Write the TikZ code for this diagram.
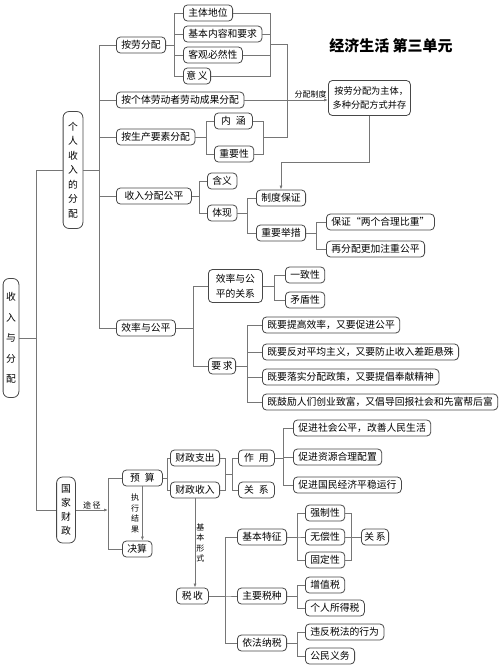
\documentclass[tikz,border=0pt]{standalone}
\usepackage{fontspec}
\setmainfont{Noto Sans CJK SC}
\usetikzlibrary{arrows.meta}
\definecolor{linegray}{HTML}{767676}
\definecolor{boxgray}{HTML}{474747}
\tikzset{
  box/.style={draw=boxgray, line width=0.8pt, rounded corners=4pt, anchor=west,
    minimum height=16, inner xsep=5pt, inner ysep=1pt, font=\fontsize{9.8}{12}\selectfont},
  vbox/.style={draw=boxgray, line width=0.8pt, rounded corners=6pt, align=center},
  link/.style={draw=linegray, line width=0.7pt},
  lbl/.style={font=\fontsize{8}{10.6}\selectfont, inner sep=1pt, align=center},
}
\begin{document}
\begin{tikzpicture}[x=1pt, y=-1pt, >={Latex[length=4pt,width=3pt]}]
\useasboundingbox (0,0) rectangle (500,667);

% title
\node[font=\fontsize{15}{17}\selectfont\bfseries] (title) at (391,46) {经济生活 第三单元};

% main branches
\node[vbox, inner xsep=3pt, minimum height=119, font=\fontsize{9.8}{20.5}\selectfont] (gen) at (11,338) {收\\入\\与\\分\\配};
\node[vbox, inner xsep=5pt, minimum height=117, font=\fontsize{9.8}{14.5}\selectfont] (geren) at (73,170) {个\\人\\收\\入\\的\\分\\配};
\node[vbox, inner xsep=4.5pt, minimum height=66, font=\fontsize{9.8}{14.3}\selectfont] (caizheng) at (66,510) {国\\家\\财\\政};

% personal income
\node[box] (anlao) at (116,45) {按劳分配};
\node[box] (zhuti) at (183,13) {主体地位};
\node[box] (neirong) at (183,34) {基本内容和要求};
\node[box] (biran) at (183,55) {客观必然性};
\node[box, inner xsep=3pt] (yiyi) at (183,76) {意\,义};
\node[box] (geti) at (116,100) {按个体劳动者劳动成果分配};
\node[box] (yaosu) at (116,137) {按生产要素分配};
\node[box, minimum width=38] (neihan) at (214,121) {内\enspace 涵};
\node[box] (zhongyao) at (214,154) {重要性};
\node[box, align=center, inner xsep=1pt, minimum width=82, minimum height=35, font=\fontsize{9.2}{14.5}\selectfont] (zhidu) at (328,98) {\hspace{0.4em}按劳分配为主体，\\多种分配方式并存};
\node[box, minimum width=75] (gongping) at (116,196) {收入分配公平};
\node[box] (hanyi) at (207,181) {含义};
\node[box] (tixian) at (207,213) {体现};
\node[box] (baozheng) at (256,198) {制度保证};
\node[box] (jucuo) at (256,233) {重要举措};
\node[box] (bizhong) at (326,222) {保证“两个合理比重”};
\node[box] (zaifenpei) at (326,249) {再分配更加注重公平};
\node[box] (xiaolv) at (116,328) {效率与公平};
\node[box, align=center, minimum width=54, minimum height=33, font=\fontsize{9.8}{15}\selectfont] (guanxi) at (208,286) {效率与公\\平的关系};
\node[box] (yizhi) at (285,275) {一致性};
\node[box] (maodun) at (285,300) {矛盾性};
\node[box, inner xsep=3pt] (yaoqiu) at (208,366) {要\,求};
\node[box] (req1) at (262,325) {既要提高效率，又要促进公平};
\node[box] (req2) at (262,352) {既要反对平均主义，又要防止收入差距悬殊};
\node[box] (req3) at (262,377) {既要落实分配政策，又要提倡奉献精神};
\node[box] (req4) at (262,402) {既鼓励人们创业致富，又倡导回报社会和先富帮后富};

% state finance
\node[box, minimum width=40] (yusuan) at (122,478) {预\enspace 算};
\node[box] (juesuan) at (122,549) {决算};
\node[box] (zhichu) at (170,458) {财政支出};
\node[box] (shouru) at (170,490) {财政收入};
\node[box, minimum width=36] (zuoyong) at (238,458) {作\enspace 用};
\node[box, minimum width=36] (guanxi2) at (238,490) {关\enspace 系};
\node[box] (cu1) at (293,428) {促进社会公平，改善人民生活};
\node[box] (cu2) at (293,457) {促进资源合理配置};
\node[box] (cu3) at (293,485) {促进国民经济平稳运行};
\node[box, minimum width=32] (shuishou) at (176,596) {税\,收};
\node[box] (tezheng) at (237,537) {基本特征};
\node[box] (shuizhong) at (237,596) {主要税种};
\node[box] (nashui) at (237,643) {依法纳税};
\node[box] (qiangzhi) at (305,513) {强制性};
\node[box] (wuchang) at (305,537) {无偿性};
\node[box] (guding) at (305,560) {固定性};
\node[box, inner xsep=3pt] (guanxi3) at (361,537) {关\,系};
\node[box] (zengzhi) at (305,585) {增值税};
\node[box] (suode) at (305,608) {个人所得税};
\node[box] (weifan) at (305,632) {违反税法的行为};
\node[box] (yiwu) at (305,656) {公民义务};

% connectors
\foreach \n in {geren,caizheng} \draw[link] (gen.east) -- ++(17,0) |- (\n.west);
\foreach \n in {anlao,geti,yaosu,gongping,xiaolv} \draw[link] (geren.east) -- ++(16,0) |- (\n.west);
\foreach \n in {zhuti,neirong,biran,yiyi} \draw[link] (anlao.east) -- ++(8,0) |- (\n.west);
\foreach \n in {neihan,zhongyao} \draw[link] (yaosu.east) -- ++(11,0) |- (\n.west);
\coordinate (j1) at (270,44);
\coordinate (j2) at (287,44);
\coordinate (j3) at (287,137);
\coordinate (j4) at (263,137);
\foreach \n in {zhuti,neirong,biran,yiyi} \draw[link] (\n.east) -| (j1);
\foreach \n in {neihan,zhongyao} \draw[link] (\n.east) -| (j4);
\draw[link] (j1) -- (j2) -- (j3) -- (j4);
\draw[link,->] (geti.east) -- (geti.east -| zhidu.west) node[lbl, pos=1, above left] {分配制度};
\draw[link,->] (zhidu.south) -- ++(0,46) -| (baozheng.north);
\foreach \n in {hanyi,tixian} \draw[link] (gongping.east) -- ++(8,0) |- (\n.west);
\foreach \n in {baozheng,jucuo} \draw[link] (tixian.east) -- ++(10,0) |- (\n.west);
\foreach \n in {bizhong,zaifenpei} \draw[link] (jucuo.east) -- ++(10,0) |- (\n.west);
\foreach \n in {guanxi,yaoqiu} \draw[link] (xiaolv.east) -- ++(18,0) |- (\n.west);
\foreach \n in {yizhi,maodun} \draw[link] (guanxi.east) -- ++(12,0) |- (\n.west);
\foreach \n in {req1,req2,req3,req4} \draw[link] (yaoqiu.east) -- ++(11,0) |- (\n.west);

\coordinate (tujing) at (108,510);
\draw[link,->] (caizheng.east) -- (tujing) node[lbl, midway, above] {途\,径};
\foreach \n in {yusuan,juesuan} \draw[link] (\n.west) -| (tujing);
\draw[link,->] (yusuan.south) -- (yusuan.south |- juesuan.north) node[lbl, midway, left=2pt] {执\\行\\结\\果};
\foreach \n in {zhichu,shouru} \draw[link] (yusuan.east) -- ++(5,0) |- (\n.west);
\coordinate (f1) at (225,474);
\coordinate (f2) at (232,474);
\foreach \n in {zhichu,shouru} \draw[link] (\n.east) -| (f1);
\draw[link] (f1) -- (f2);
\foreach \n in {zuoyong,guanxi2} \draw[link] (\n.west) -| (f2);
\foreach \n in {cu1,cu2,cu3} \draw[link] (zuoyong.east) -- ++(9,0) |- (\n.west);
\draw[link,->] (shouru.south) -- (shouru.south |- shuishou.north) node[lbl, midway, right] {基\\本\\形\\式};
\foreach \n in {tezheng,shuizhong,nashui} \draw[link] (shuishou.east) -- ++(17,0) |- (\n.west);
\foreach \n in {qiangzhi,wuchang,guding} \draw[link] (tezheng.east) -- ++(10,0) |- (\n.west);
\coordinate (t1) at (351,537);
\foreach \n in {qiangzhi,wuchang,guding} \draw[link] (\n.east) -| (t1);
\draw[link] (t1) -- (guanxi3.west);
\foreach \n in {zengzhi,suode} \draw[link] (shuizhong.east) -- ++(10,0) |- (\n.west);
\foreach \n in {weifan,yiwu} \draw[link] (nashui.east) -- ++(10,0) |- (\n.west);
\end{tikzpicture}
\end{document}
